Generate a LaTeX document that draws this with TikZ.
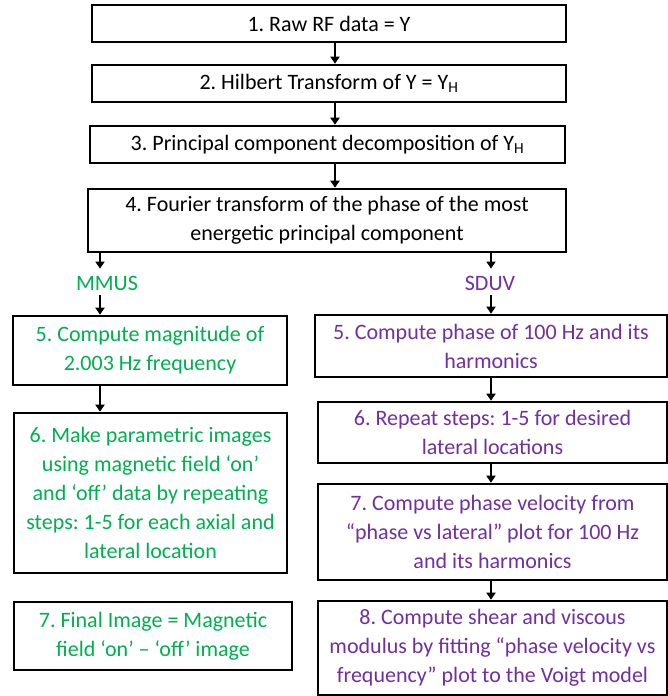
\documentclass[tikz,border=0pt]{standalone}
\usepackage{fontspec}
\setmainfont{Carlito}
\usetikzlibrary{arrows.meta}
\definecolor{mgreen}{HTML}{00B050}
\definecolor{mpurple}{HTML}{7030A0}
\tikzset{
  box/.style={draw=black, line width=2.6pt, align=center, inner sep=0pt,
    font=\fontsize{22}{29}\selectfont\frenchspacing},
  lbl/.style={inner sep=0pt, font=\fontsize{22}{29}\selectfont},
  arr/.style={line width=2.6pt, -{Triangle[length=7pt,width=9pt]}},
}
\begin{document}
\begin{tikzpicture}[x=1pt,y=-1pt]
\useasboundingbox[fill=white] (0,0) rectangle (668,696);
% main column
\node[box, minimum width=474pt, minimum height=37pt] (b1) at (329,23.5) {1. Raw RF data = Y};
\node[box, minimum width=474pt, minimum height=37pt] (b2) at (329,83.5) {2. Hilbert Transform of Y = Y\textsubscript{H}};
\node[box, minimum width=475pt, minimum height=37pt] (b3) at (327.5,144.5) {3. Principal component decomposition of Y\textsubscript{H}};
\node[box, minimum width=478pt, minimum height=63pt] (b4) at (327,220.5) {4. Fourier transform of the phase of the most\\energetic principal component};
% labels
\node[lbl, text=mgreen] (mmus) at (107,283) {MMUS};
\node[lbl, text=mpurple] (sduv) at (490,283) {SDUV};
% left column
\node[box, text=mgreen, minimum width=274pt, minimum height=69pt] (l5) at (150,350.5) {5. Compute magnitude of\\2.003 Hz frequency};
\node[box, text=mgreen, minimum width=273pt, minimum height=160pt] (l6) at (150.5,493) {6. Make parametric images\\using magnetic field ‘on’\\and ‘off’ data by repeating\\steps: 1-5 for each axial and\\lateral location};
\node[box, text=mgreen, minimum width=278pt, minimum height=68pt] (l7) at (153,636) {7. Final Image = Magnetic\\field ‘on’ – ‘off’ image};
% right column
\node[box, text=mpurple, minimum width=352pt, minimum height=62pt] (r5) at (491,346) {5. Compute phase of 100 Hz and its\\harmonics};
\node[box, text=mpurple, minimum width=349pt, minimum height=61pt] (r6) at (492.5,432.5) {6. Repeat steps: 1-5 for desired\\lateral locations};
\node[box, text=mpurple, minimum width=349pt, minimum height=96pt] (r7) at (492.5,532) {7. Compute phase velocity from\\“phase vs lateral” plot for 100 Hz\\and its harmonics};
\node[box, text=mpurple, minimum width=349pt, minimum height=94pt] (r8) at (492.5,648) {8. Compute shear and viscous\\modulus by fitting “phase velocity vs\\frequency” plot to the Voigt model};
% arrow x positions
\coordinate (ax) at (335,0);
\coordinate (lx) at (100,0);
\coordinate (rx) at (491,0);
% connectors
\draw[arr] (b1.south -| ax) -- (b2.north -| ax);
\draw[arr] (b2.south -| ax) -- (b3.north -| ax);
\draw[arr] (b3.south -| ax) -- (b4.north -| ax);
\draw[arr] (b4.south -| lx) -- ([yshift=7pt]mmus.north -| lx);
\draw[arr] ([yshift=-5pt]mmus.south -| lx) -- (l5.north -| lx);
\draw[arr] (l5.south -| lx) -- (l6.north -| lx);
\draw[arr] (b4.south -| rx) -- ([yshift=7pt]sduv.north -| rx);
\draw[arr] ([yshift=-5pt]sduv.south -| rx) -- (r5.north -| rx);
\draw[arr] (r5.south -| rx) -- (r6.north -| rx);
\draw[arr] (r6.south -| rx) -- (r7.north -| rx);
\draw[arr] (r7.south -| rx) -- (r8.north -| rx);
\end{tikzpicture}
\end{document}
